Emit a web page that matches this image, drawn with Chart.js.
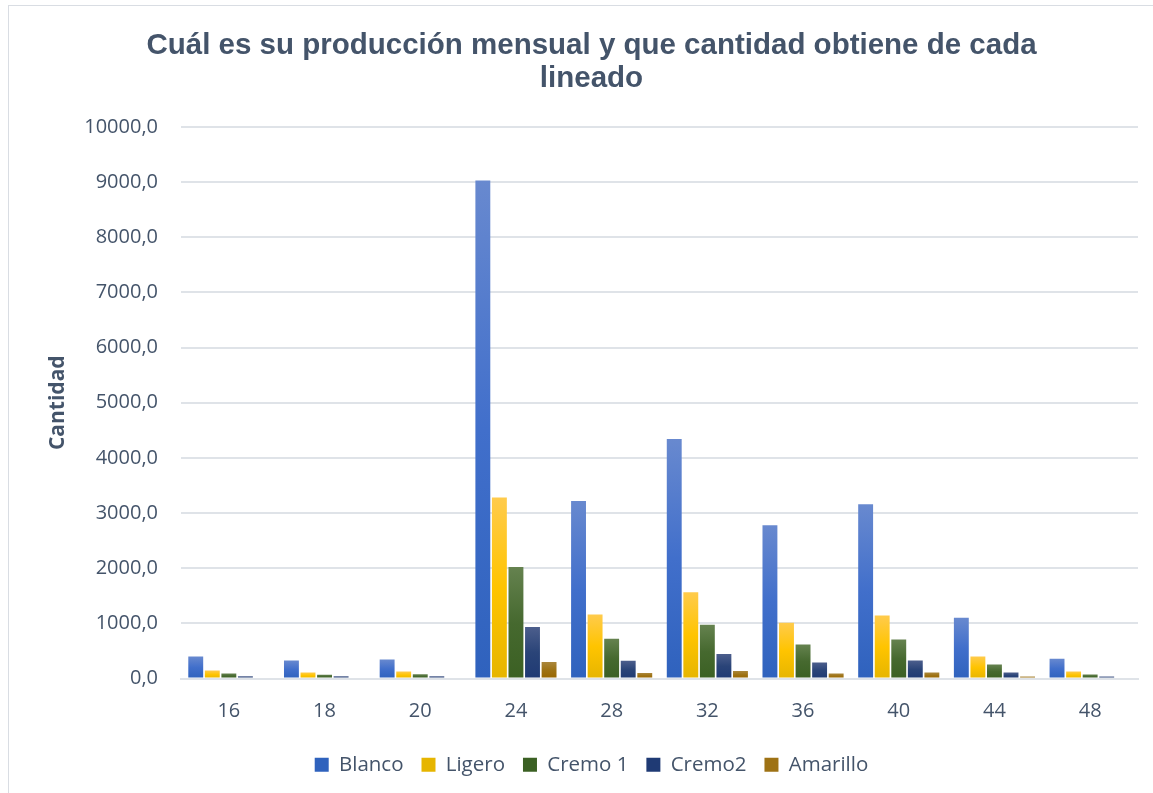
<!DOCTYPE html>
<html>
<head>
<meta charset="utf-8">
<script src="https://cdn.jsdelivr.net/npm/chart.js@4.4.1/dist/chart.umd.min.js"></script>
<style>
    html, body { margin: 0; padding: 0; background: #fff; overflow: hidden; }
    #frame {
        position: absolute; left: 8px; top: 5px; width: 1160px; height: 800px;
        border-left: 1px solid #d9dde3; border-top: 1px solid #d9dde3;
    }
    #wrap { position: absolute; left: 0; top: 0; width: 1153px; height: 793px; }
</style>
</head>
<body>
<div id="frame"></div>
<div id="wrap"><canvas id="chart"></canvas></div>
<script>
const categories = ['16', '18', '20', '24', '28', '32', '36', '40', '44', '48'];
const blanco   = [400, 325, 345, 9030, 3220, 4340, 2780, 3160, 1100, 360];
const ligero   = [145, 110, 125, 3280, 1160, 1565, 1010, 1140, 400, 127];
const cremo1   = [90, 70, 75, 2020, 720, 975, 615, 705, 253, 72];
const cremo2   = [40, 40, 40, 935, 320, 445, 290, 325, 108, 36];
const amarillo = [0, 0, 0, 300, 100, 137, 90, 108, 36, 0];

const textColor = '#44546a';
const gridColor = '#dfe3e8';

// top, middle, bottom of each bar's gradient, plus legend swatch
const palette = {
    Blanco:    ['#6889cf', '#416fcb', '#2f62bd', '#4a76cf'],
    Ligero:    ['#ffcb4c', '#ffc400', '#e6b500', '#ffc20e'],
    'Cremo 1': ['#65824f', '#46692f', '#3b6023', '#4b6d35'],
    Cremo2:    ['#4c5e8c', '#2a4478', '#1f3a74', '#2e457c'],
    Amarillo:  ['#aa873c', '#9e7214', '#986600', '#a07412']
};

function barGradient(name) {
    const c = palette[name];
    return function (ctx) {
        if (ctx.type !== 'data') return c[3];
        const chart = ctx.chart;
        if (!chart.chartArea || !chart.scales.y) return c[1];
        const y = chart.scales.y;
        const top = y.getPixelForValue(ctx.raw);
        const bottom = y.getPixelForValue(0);
        if (bottom - top < 1) return c[1];
        const g = chart.ctx.createLinearGradient(0, top, 0, bottom);
        g.addColorStop(0, c[0]);
        g.addColorStop(0.5, c[1]);
        g.addColorStop(1, c[2]);
        return g;
    };
}

function makeDataset(name, values) {
    return {
        label: name,
        data: values,
        backgroundColor: barGradient(name),
        borderWidth: 0,
        barPercentage: 0.9,
        categoryPercentage: 0.865
    };
}

const ctx = document.getElementById('chart').getContext('2d');
new Chart(ctx, {
    type: 'bar',
    data: {
        labels: categories,
        datasets: [
            makeDataset('Blanco', blanco),
            makeDataset('Ligero', ligero),
            makeDataset('Cremo 1', cremo1),
            makeDataset('Cremo2', cremo2),
            makeDataset('Amarillo', amarillo)
        ]
    },
    options: {
        responsive: true,
        maintainAspectRatio: false,
        animation: false,
        layout: { padding: { left: 45, right: 15, top: 30, bottom: 8 } },
        plugins: {
            title: {
                display: true,
                text: ['Cuál es su producción mensual y que cantidad obtiene de cada', 'lineado'],
                color: textColor,
                font: { family: "'Liberation Sans', Arial, sans-serif", size: 29.5, weight: 'bold', lineHeight: 1.1 },
                padding: { top: 0, bottom: 32 }
            },
            legend: {
                position: 'bottom',
                labels: {
                    color: textColor,
                    font: { family: "'Open Sans', sans-serif", size: 20.5 },
                    boxWidth: 14,
                    boxHeight: 14,
                    padding: 18
                }
            },
            tooltip: { enabled: false }
        },
        scales: {
            x: {
                grid: { display: false },
                border: { color: gridColor, width: 2 },
                ticks: {
                    color: textColor,
                    font: { family: "'Open Sans', sans-serif", size: 20 },
                    padding: 13
                }
            },
            y: {
                min: 0,
                max: 10000,
                grid: { color: gridColor, lineWidth: 2, drawTicks: false },
                border: { display: false },
                afterFit: scale => { scale.width = 136; },
                ticks: {
                    stepSize: 1000,
                    color: textColor,
                    padding: 23,
                    font: { family: "'Open Sans', sans-serif", size: 20 },
                    callback: v => v.toFixed(1).replace('.', ',')
                },
                title: {
                    display: true,
                    text: 'Cantidad',
                    color: textColor,
                    font: { family: "'Open Sans', sans-serif", size: 21, weight: 'bold' },
                    padding: { top: 0, bottom: 0 }
                }
            }
        }
    }
});
</script>
</body>
</html>
